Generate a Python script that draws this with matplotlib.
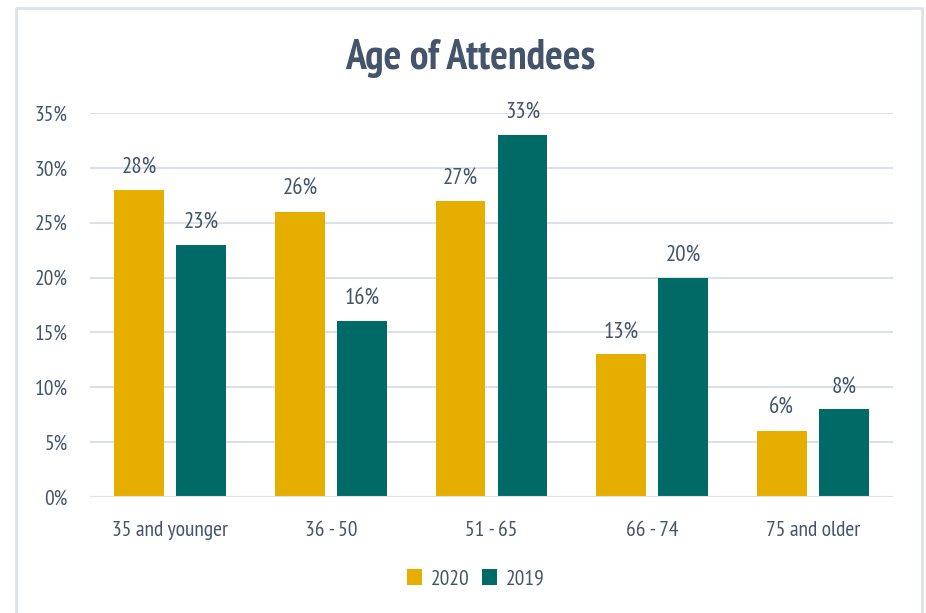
import matplotlib.pyplot as plt
import numpy as np
from matplotlib.lines import Line2D

categories = ['35 and younger', '36 - 50', '51 - 65', '66 - 74', '75 and older']
vals_2020 = [28, 26, 27, 13, 6]
vals_2019 = [23, 16, 33, 20, 8]
yticks = [0, 5, 10, 15, 20, 25, 30, 35]

GOLD = '#E6AF00'
TEAL = '#006A66'
TXT = '#44546A'
GRID = '#DCE1E7'

plt.rcParams['font.family'] = ['PT Sans Narrow', 'Roboto Condensed', 'DejaVu Sans']


def main():
    fig = plt.figure(figsize=(9.26, 6.13), dpi=100)
    # light frame round the whole chart
    fig.add_artist(Line2D([16/926, 16/926, 922/926, 922/926],
                          [0, 1 - 8/613, 1 - 8/613, 0],
                          transform=fig.transFigure, color='#DDE2E8', lw=2))

    ax = fig.add_axes([90/926, 1 - 497/613, 803/926, 384/613])
    x = np.arange(len(categories))
    w = 0.31
    off = 0.193
    b1 = ax.bar(x - off, vals_2020, w, color=GOLD, label='2020', zorder=3)
    b2 = ax.bar(x + off, vals_2019, w, color=TEAL, label='2019', zorder=3)

    for bars, vals in ((b1, vals_2020), (b2, vals_2019)):
        for b, v in zip(bars, vals):
            ax.text(b.get_x() + b.get_width() / 2, v + 1.55, f'{v}%',
                    ha='center', va='baseline', fontsize=16.5, color=TXT)

    ax.set_xlim(-0.5, 4.5)
    ax.set_ylim(0, 35)
    ax.set_yticks(yticks)
    ax.set_yticklabels([f'{t}%' for t in yticks])
    ax.set_xticks(x)
    ax.set_xticklabels(categories)
    ax.tick_params(axis='both', length=0, labelsize=15.5, colors=TXT)
    ax.tick_params(axis='y', pad=16)
    ax.tick_params(axis='x', pad=17)
    ax.grid(axis='y', color=GRID, lw=1.5, zorder=0)
    for s in ax.spines.values():
        s.set_visible(False)
    ax.axhline(0, color=GRID, lw=1.5, zorder=4)

    fig.text(470/926, 1 - 58/613, 'Age of Attendees', ha='center', va='center',
             fontsize=30, fontweight='bold', color=TXT)

    fig.legend(handles=[b1, b2], loc='center', bbox_to_anchor=(476/926, 1 - 579/613),
               ncol=2, frameon=False, fontsize=15.5, labelcolor=TXT,
               handlelength=0.7, handleheight=0.7, handletextpad=0.4, columnspacing=0.6)

    fig.savefig('out.png', dpi=100, facecolor='white')


if __name__ == '__main__':
    main()
